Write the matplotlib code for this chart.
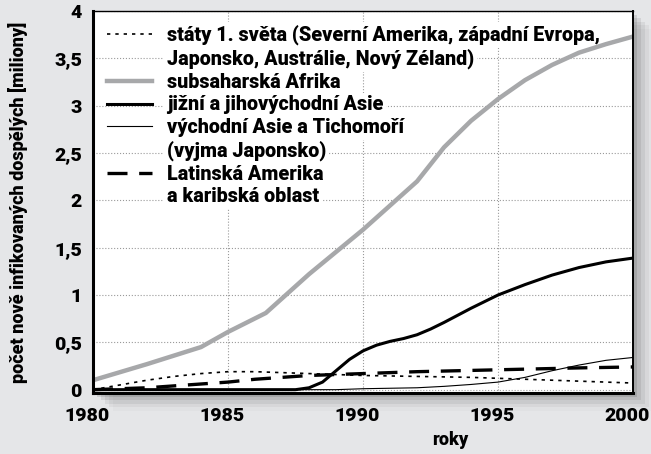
import matplotlib
matplotlib.use('Agg')
import matplotlib.pyplot as plt
import matplotlib.transforms as mtransforms
from matplotlib.lines import Line2D
from matplotlib.patches import Rectangle

# data
years_dev = [1980, 1981, 1982, 1983, 1984, 1985, 1986, 1987, 1988, 1989,
             1990, 1992, 1994, 1995, 1996, 1998, 2000]
developed = [0.0, 0.05, 0.10, 0.14, 0.17, 0.19, 0.19, 0.18, 0.17, 0.16,
             0.15, 0.14, 0.13, 0.12, 0.11, 0.09, 0.07]

years_ssa = [1980, 1982, 1984, 1985, 1986.4, 1988, 1990, 1992, 1993, 1994,
             1995, 1996, 1997, 1998, 1999, 2000]
subsahara = [0.10, 0.27, 0.45, 0.61, 0.81, 1.22, 1.69, 2.20, 2.56, 2.84,
             3.07, 3.27, 3.43, 3.56, 3.65, 3.73]

years_sea = [1980, 1987.5, 1988, 1988.5, 1989, 1989.5, 1990, 1990.5, 1991,
             1991.5, 1992, 1992.5, 1993, 1994, 1995, 1996, 1997, 1998, 1999,
             2000]
south_asia = [0.0, 0.0, 0.02, 0.08, 0.20, 0.32, 0.41, 0.47, 0.51, 0.54,
              0.58, 0.64, 0.71, 0.86, 1.00, 1.11, 1.21, 1.29, 1.35, 1.39]

years_ea = [1980, 1989, 1990, 1991, 1992, 1993, 1994, 1995, 1996, 1997,
            1998, 1999, 2000]
east_asia = [0.0, 0.0, 0.01, 0.015, 0.02, 0.035, 0.055, 0.08, 0.13, 0.20,
             0.26, 0.31, 0.34]

years_la = [1980, 1982, 1984, 1985, 1986, 1987, 1988, 1990, 1992, 1995,
            1998, 2000]
latin = [0.0, 0.02, 0.06, 0.08, 0.11, 0.13, 0.15, 0.17, 0.19, 0.21, 0.23,
         0.24]

xticks = [1980, 1985, 1990, 1995, 2000]
yticks = [0, 0.5, 1, 1.5, 2, 2.5, 3, 3.5, 4]
ytick_labels = ['0', '0,5', '1', '1,5', '2', '2,5', '3', '3,5', '4']

legend_rows = [
    ('dev', 'státy 1. světa (Severní Amerika, západní Evropa,'),
    (None, 'Japonsko, Austrálie, Nový Zéland)'),
    ('ssa', 'subsaharská Afrika'),
    ('sea', 'jižní a jihovýchodní Asie'),
    ('ea', 'východní Asie a Tichomoří'),
    (None, '(vyjma Japonsko)'),
    ('la', 'Latinská Amerika'),
    (None, 'a karibská oblast'),
]

plt.rcParams['font.family'] = ['Roboto', 'DejaVu Sans']
plt.rcParams['font.weight'] = 900
plt.rcParams['axes.labelweight'] = 900

bg = '#e5e6e8'
fig = plt.figure(figsize=(6.51, 4.54), dpi=100, facecolor=bg)
ax = fig.add_axes([0.1429, 0.1344, 0.8295, 0.8414])

# soft shadow right and below the plot frame
for i, a in enumerate([0.10, 0.08, 0.06, 0.04, 0.02]):
    off = (i + 1) * 0.003
    fig.patches.append(Rectangle((0.1429 + off * 2, 0.1344 - off * 2.6),
                                 0.8295, 0.8414, transform=fig.transFigure,
                                 facecolor='black', alpha=a, zorder=-1,
                                 edgecolor='none'))

styles = {
    'dev': dict(color='black', lw=1.2, ls=(0, (2, 3))),
    'ssa': dict(color='#a7a8aa', lw=3.2, ls='-'),
    'sea': dict(color='black', lw=2.2, ls='-'),
    'ea': dict(color='black', lw=0.8, ls='-'),
    'la': dict(color='black', lw=2.4, ls=(0, (6, 3.5))),
}

ax.plot(years_dev, developed, **styles['dev'])
ax.plot(years_la, latin, **styles['la'])
ax.plot(years_ea, east_asia, **styles['ea'])
ax.plot(years_sea, south_asia, **styles['sea'])
ax.plot(years_ssa, subsahara, solid_capstyle='butt', **styles['ssa'])

ax.set_xlim(1980, 2000)
ax.set_ylim(-0.035, 4)
ax.set_xticks(xticks)
ax.set_yticks(yticks)
ax.set_yticklabels(ytick_labels)
ax.tick_params(length=0, labelsize=14)
ax.tick_params(axis='x', pad=10)
ax.tick_params(axis='y', pad=8)
shift = mtransforms.ScaledTranslation(-4 / 72, 0, fig.dpi_scale_trans)
for lab in ax.get_xticklabels():
    lab.set_transform(lab.get_transform() + shift)
ax.grid(True, color='#9a9a9a', ls=':', lw=0.8)
ax.set_axisbelow(True)

ax.spines['left'].set_linewidth(2.2)
ax.spines['bottom'].set_linewidth(2.2)
ax.spines['top'].set_linewidth(1.0)
ax.spines['right'].set_linewidth(1.4)

ax.set_ylabel('počet nově infikovaných dospělých [miliony]', fontsize=13)
ax.yaxis.set_label_coords(-0.12, 0.5)
ax.set_xlabel('roky', fontsize=13)
ax.xaxis.set_label_coords(0.661, -0.1)

handles = []
labels = []
for key, text in legend_rows:
    if key is None:
        handles.append(Line2D([], [], color='none'))
    else:
        handles.append(Line2D([], [], **styles[key]))
    labels.append(text)

leg = ax.legend(handles, labels, loc='upper left', frameon=False,
                fontsize=14.2, handlelength=2.3, handletextpad=0.76,
                labelspacing=0.18, borderaxespad=0.3,
                bbox_to_anchor=(0.0, 1.0))
leg.set_zorder(1.5)  # white text boxes hide the grid, curves stay on top
for t in leg.get_texts():
    t.set_bbox(dict(facecolor='white', edgecolor='none', pad=2))

fig.savefig('out.png', dpi=100, facecolor=bg)
